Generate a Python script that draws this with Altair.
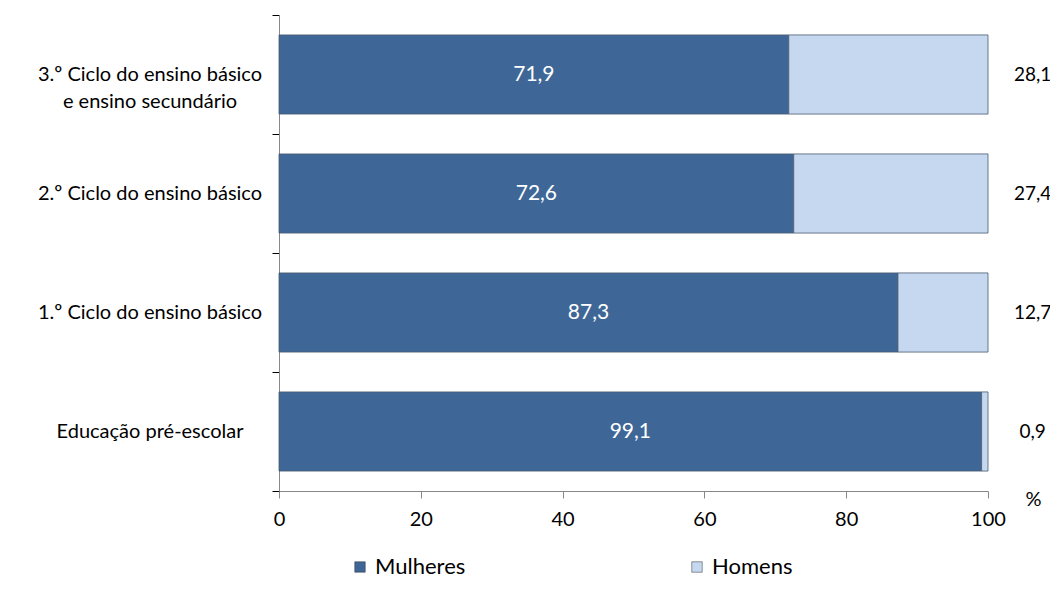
import altair as alt
import pandas as pd

categories = [
    "3.º Ciclo do ensino básico e ensino secundário",
    "2.º Ciclo do ensino básico",
    "1.º Ciclo do ensino básico",
    "Educação pré-escolar",
]
mulheres = [71.9, 72.6, 87.3, 99.1]
homens = [28.1, 27.4, 12.7, 0.9]
series = ["Mulheres", "Homens"]
x_ticks = [0, 20, 40, 60, 80, 100]

FONT = "Lato"
FS = 20

rows = []
for c, m, h in zip(categories, mulheres, homens):
    rows.append({"cat": c, "serie": "Mulheres", "ord": 0, "v": m, "lbl": f"{m:.1f}".replace(".", ",")})
    rows.append({"cat": c, "serie": "Homens", "ord": 1, "v": h, "lbl": f"{h:.1f}".replace(".", ",")})
df = pd.DataFrame(rows)

y_scale = alt.Scale(domain=categories, paddingInner=0, paddingOuter=0)
x_scale = alt.Scale(domain=[0, 100], nice=False)

x_axis = alt.Axis(
    values=x_ticks,
    grid=False,
    labelFont=FONT,
    labelFontSize=FS,
    labelColor="#000000",
    labelPadding=11,
    labelFlush=False,
    tickSize=7,
    tickColor="#888888",
    domainColor="#888888",
    titleFont=FONT,
    titleFontSize=FS,
    titleFontWeight="normal",
    titleColor="#000000",
    titleX=754,
    titleY=8,
    titleAlign="center",
    titleBaseline="middle",
)
y_axis = alt.Axis(
    labels=False,
    tickBand="extent",
    tickSize=7,
    tickColor="#000000",
    domainColor="#888888",
)

bars = alt.Chart(df).mark_bar(
    stroke="#4a5a70", strokeWidth=0.8, height=alt.RelativeBandSize(0.665)
).encode(
    x=alt.X("v:Q", stack="zero", scale=x_scale, title="%", axis=x_axis),
    y=alt.Y("cat:N", title=None, scale=y_scale, axis=y_axis),
    color=alt.Color(
        "serie:N",
        scale=alt.Scale(domain=series, range=["#3E6797", "#C5D8F0"]),
        legend=alt.Legend(
            title=None,
            orient="none",
            legendX=70,
            legendY=541,
            direction="horizontal",
            columns=2,
            columnPadding=220,
            symbolType="square",
            symbolSize=110,
            symbolStrokeColor="#333333",
            symbolStrokeWidth=0.5,
            labelFont=FONT,
            labelFontSize=22,
            labelColor="#000000",
            labelOffset=4,
        ),
    ),
    order=alt.Order("ord:Q"),
)

cat_labels = alt.Chart(df).transform_filter(alt.datum.serie == "Mulheres").transform_calculate(
    zero="0",
    catlbl="replace(datum.cat, 'básico e ', 'básico\\ne ')",
).mark_text(
    font=FONT, fontSize=FS, color="#000000", align="center", baseline="middle",
    dx=-129, lineBreak="\n", lineHeight=27, clip=False,
).encode(
    x=alt.X("zero:Q", scale=x_scale, title="%", axis=x_axis),
    y=alt.Y("cat:N", title=None, scale=y_scale, axis=y_axis),
    text="catlbl:N",
)

inner = alt.Chart(df).transform_filter(alt.datum.serie == "Mulheres").transform_calculate(
    mid="datum.v / 2"
).mark_text(font=FONT, fontSize=21, color="#ffffff").encode(
    x=alt.X("mid:Q", scale=x_scale, title="%", axis=x_axis),
    y=alt.Y("cat:N", title=None, scale=y_scale, axis=y_axis),
    text="lbl:N",
)

outer = alt.Chart(df).transform_filter(alt.datum.serie == "Homens").transform_calculate(
    pos="106.3"
).mark_text(font=FONT, fontSize=19, color="#000000", clip=False).encode(
    x=alt.X("pos:Q", scale=x_scale, title="%", axis=x_axis),
    y=alt.Y("cat:N", title=None, scale=y_scale, axis=y_axis),
    text="lbl:N",
)

chart = alt.layer(bars, cat_labels, inner, outer).properties(
    width=709,
    height=476,
    autosize=alt.AutoSizeParams(type="none"),
    padding={"left": 271, "top": 7, "right": 62, "bottom": 90},
).configure_view(stroke=None)

chart.save("out.html", embed_options={"renderer": "svg", "actions": False})
